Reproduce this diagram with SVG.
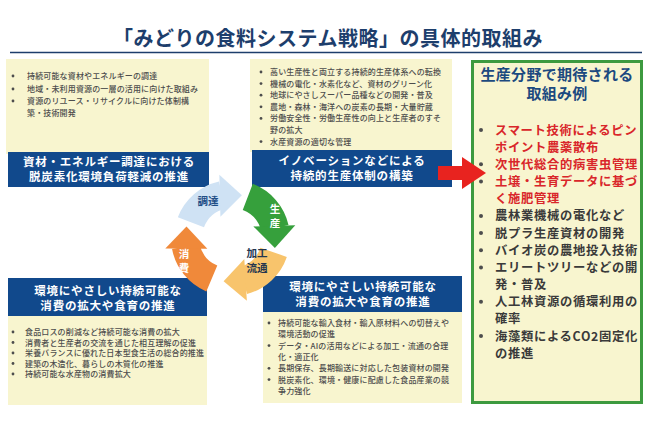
<svg xmlns="http://www.w3.org/2000/svg" xmlns:xlink="http://www.w3.org/1999/xlink" width="650" height="433" viewBox="0 0 650 433">
<style>
text{font-family:"Noto Sans CJK JP","Noto Sans",sans-serif}
.title{font-size:20px;font-weight:700;fill:#1d3e6c;letter-spacing:0.5px}
.panel{fill:#f8f5cf}
.band{fill:#11498c}
.bt{font-size:11.5px;font-weight:700;fill:#ffffff;letter-spacing:0.8px}
.li{font-size:8px;font-weight:500;fill:#4d4d4d;letter-spacing:0.15px}
.dot{fill:#4d4d4d}
.gt{font-size:15px;font-weight:700;fill:#1c4a80;letter-spacing:0.3px}
.gl{font-size:12.3px;font-weight:700;fill:#3a3a3a;letter-spacing:0.7px}
.red{fill:#d9262a}
.lbl{font-size:10.5px;font-weight:700}
</style>
<defs>
<g id="cyc">
<path d="M -54.15,-20.79 A 58 58 0 0 1 -13.05,-56.51 L -6.75,-29.23 A 30 30 0 0 0 -28.01,-10.75 Z"/>
<polygon points="-11.59,-21.31 9.90,-42.87 -12.67,-63.29"/>
</g>
</defs>
<rect width="650" height="433" fill="#ffffff"/>

<g id="title">
<text class="title" x="328" y="46" text-anchor="middle">「みどりの食料システム戦略」の具体的取組み</text>
<line x1="10" y1="52.5" x2="642" y2="52.5" stroke="#1d3e6c" stroke-width="1.5"/>
</g>

<g id="node-procurement">
<rect class="panel" x="6" y="59" width="203" height="95"/>
<circle class="dot" cx="13" cy="76" r="1.4"/>
<circle class="dot" cx="13" cy="89" r="1.4"/>
<circle class="dot" cx="13" cy="101" r="1.4"/>
<text class="li"><tspan x="27" y="79">持続可能な資材やエネルギーの調達</tspan><tspan x="27" y="92">地域・未利用資源の一層の活用に向けた取組み</tspan><tspan x="27" y="104">資源のリユース・リサイクルに向けた体制構</tspan><tspan x="27" y="116">築・技術開発</tspan></text>
<rect class="band" x="8" y="152" width="201" height="35"/>
<text class="bt" text-anchor="middle"><tspan x="109" y="165.5">資材・エネルギー調達における</tspan><tspan x="109" y="180.7">脱炭素化環境負荷軽減の推進</tspan></text>
</g>

<g id="node-production">
<rect class="panel" x="250" y="59" width="202" height="93"/>
<circle class="dot" cx="261" cy="72" r="1.4"/>
<circle class="dot" cx="261" cy="83.6" r="1.4"/>
<circle class="dot" cx="261" cy="95.2" r="1.4"/>
<circle class="dot" cx="261" cy="106.8" r="1.4"/>
<circle class="dot" cx="261" cy="118.4" r="1.4"/>
<circle class="dot" cx="261" cy="141.6" r="1.4"/>
<text class="li"><tspan x="270" y="75">高い生産性と両立する持続的生産体系への転換</tspan><tspan x="270" y="86.6">機械の電化・水素化など、資材のグリーン化</tspan><tspan x="270" y="98.2">地球にやさしスーパー品種などの開発・普及</tspan><tspan x="270" y="109.8">農地・森林・海洋への炭素の長期・大量貯蔵</tspan><tspan x="270" y="121.4">労働安全性・労働生産性の向上と生産者のすそ</tspan><tspan x="270" y="133">野の拡大</tspan><tspan x="270" y="144.6">水産資源の適切な管理</tspan></text>
<rect class="band" x="252" y="150" width="200" height="37"/>
<text class="bt" text-anchor="middle"><tspan x="352" y="165">イノベーションなどによる</tspan><tspan x="352" y="180.2">持続的生産体制の構築</tspan></text>
</g>

<g id="node-consumption">
<rect class="band" x="8" y="278" width="199" height="38"/>
<text class="bt" text-anchor="middle"><tspan x="108" y="295">環境にやさしい持続可能な</tspan><tspan x="108" y="310.2">消費の拡大や食育の推進</tspan></text>
<rect class="panel" x="8" y="316" width="199" height="89"/>
<circle class="dot" cx="13" cy="332" r="1.4"/>
<circle class="dot" cx="13" cy="342.5" r="1.4"/>
<circle class="dot" cx="13" cy="353" r="1.4"/>
<circle class="dot" cx="13" cy="363.5" r="1.4"/>
<circle class="dot" cx="13" cy="374" r="1.4"/>
<text class="li"><tspan x="25" y="335">食品ロスの削減など持続可能な消費の拡大</tspan><tspan x="25" y="345.5">消費者と生産者の交流を通じた相互理解の促進</tspan><tspan x="25" y="356">栄養バランスに優れた日本型食生活の総合的推進</tspan><tspan x="25" y="366.5">建築の木造化、暮らしの木質化の推進</tspan><tspan x="25" y="377">持続可能な水産物の消費拡大</tspan></text>
</g>

<g id="node-processing">
<rect class="band" x="263" y="276" width="199" height="36"/>
<text class="bt" text-anchor="middle"><tspan x="363" y="291">環境にやさしい持続可能な</tspan><tspan x="363" y="306.2">消費の拡大や食育の推進</tspan></text>
<rect class="panel" x="263" y="312" width="199" height="91"/>
<circle class="dot" cx="269" cy="323" r="1.4"/>
<circle class="dot" cx="269" cy="345.6" r="1.4"/>
<circle class="dot" cx="269" cy="368.3" r="1.4"/>
<circle class="dot" cx="269" cy="379.6" r="1.4"/>
<text class="li"><tspan x="278" y="326">持続可能な輸入食材・輸入原材料への切替えや</tspan><tspan x="278" y="337.3">環境活動の促進</tspan><tspan x="278" y="348.6">データ・AIの活用などによる加工・流通の合理</tspan><tspan x="278" y="360">化・適正化</tspan><tspan x="278" y="371.3">長期保存、長期輸送に対応した包装資材の開発</tspan><tspan x="278" y="382.6">脱炭素化、環境・健康に配慮した食品産業の競</tspan><tspan x="278" y="394">争力強化</tspan></text>
</g>

<g id="node-examples">
<rect x="472.5" y="61.5" width="169" height="341" fill="#f8f5cf" stroke="#3d9a3f" stroke-width="3"/>
<text class="gt" text-anchor="middle"><tspan x="557" y="80">生産分野で期待される</tspan><tspan x="557" y="99">取組み例</tspan></text>
<circle class="dot" cx="481" cy="130" r="2"/>
<circle class="dot" cx="481" cy="164.3" r="2"/>
<circle class="dot" cx="481" cy="181.5" r="2"/>
<circle class="dot" cx="481" cy="215.9" r="2"/>
<circle class="dot" cx="481" cy="233" r="2"/>
<circle class="dot" cx="481" cy="250.2" r="2"/>
<circle class="dot" cx="481" cy="267.4" r="2"/>
<circle class="dot" cx="481" cy="301.7" r="2"/>
<circle class="dot" cx="481" cy="336" r="2"/>
<text class="gl"><tspan class="red" x="495" y="134.5">スマート技術によるピン</tspan><tspan class="red" x="495" y="151.7">ポイント農薬散布</tspan><tspan class="red" x="495" y="168.8">次世代総合的病害虫管理</tspan><tspan class="red" x="495" y="186">土壌・生育データに基づ</tspan><tspan class="red" x="495" y="203.2">く施肥管理</tspan><tspan x="495" y="220.4">農林業機械の電化など</tspan><tspan x="495" y="237.5">脱プラ生産資材の開発</tspan><tspan x="495" y="254.7">バイオ炭の農地投入技術</tspan><tspan x="495" y="271.9">エリートツリーなどの開</tspan><tspan x="495" y="289">発・普及</tspan><tspan x="495" y="306.2">人工林資源の循環利用の</tspan><tspan x="495" y="323.4">確率</tspan><tspan x="495" y="340.5">海藻類によるCO2固定化</tspan><tspan x="495" y="357.7">の推進</tspan></text>
</g>

<g id="connectors">
<use xlink:href="#cyc" href="#cyc" fill="#cfe2f4" transform="translate(232,238)"/>
<use xlink:href="#cyc" href="#cyc" fill="#36a03c" transform="translate(232,238) rotate(90)"/>
<use xlink:href="#cyc" href="#cyc" fill="#f8c46c" transform="translate(232,238) rotate(178)"/>
<use xlink:href="#cyc" href="#cyc" fill="#f0893a" transform="translate(229,238) rotate(272)"/>
<text class="lbl" x="208" y="205" text-anchor="middle" fill="#1f4e86">調達</text>
<text class="lbl" text-anchor="middle" fill="#ffffff"><tspan x="275" y="212.5">生</tspan><tspan x="275" y="226.5">産</tspan></text>
<text class="lbl" text-anchor="middle" fill="#23364f"><tspan x="257" y="257">加工</tspan><tspan x="257" y="272">流通</tspan></text>
<text class="lbl" text-anchor="middle" fill="#ffffff"><tspan x="184" y="257.5">消</tspan><tspan x="184" y="271.5">費</tspan></text>
<polygon points="438,166 462,166 462,157 486,173 462,189 462,180 438,180" fill="#e8231f"/>
</g>
</svg>
